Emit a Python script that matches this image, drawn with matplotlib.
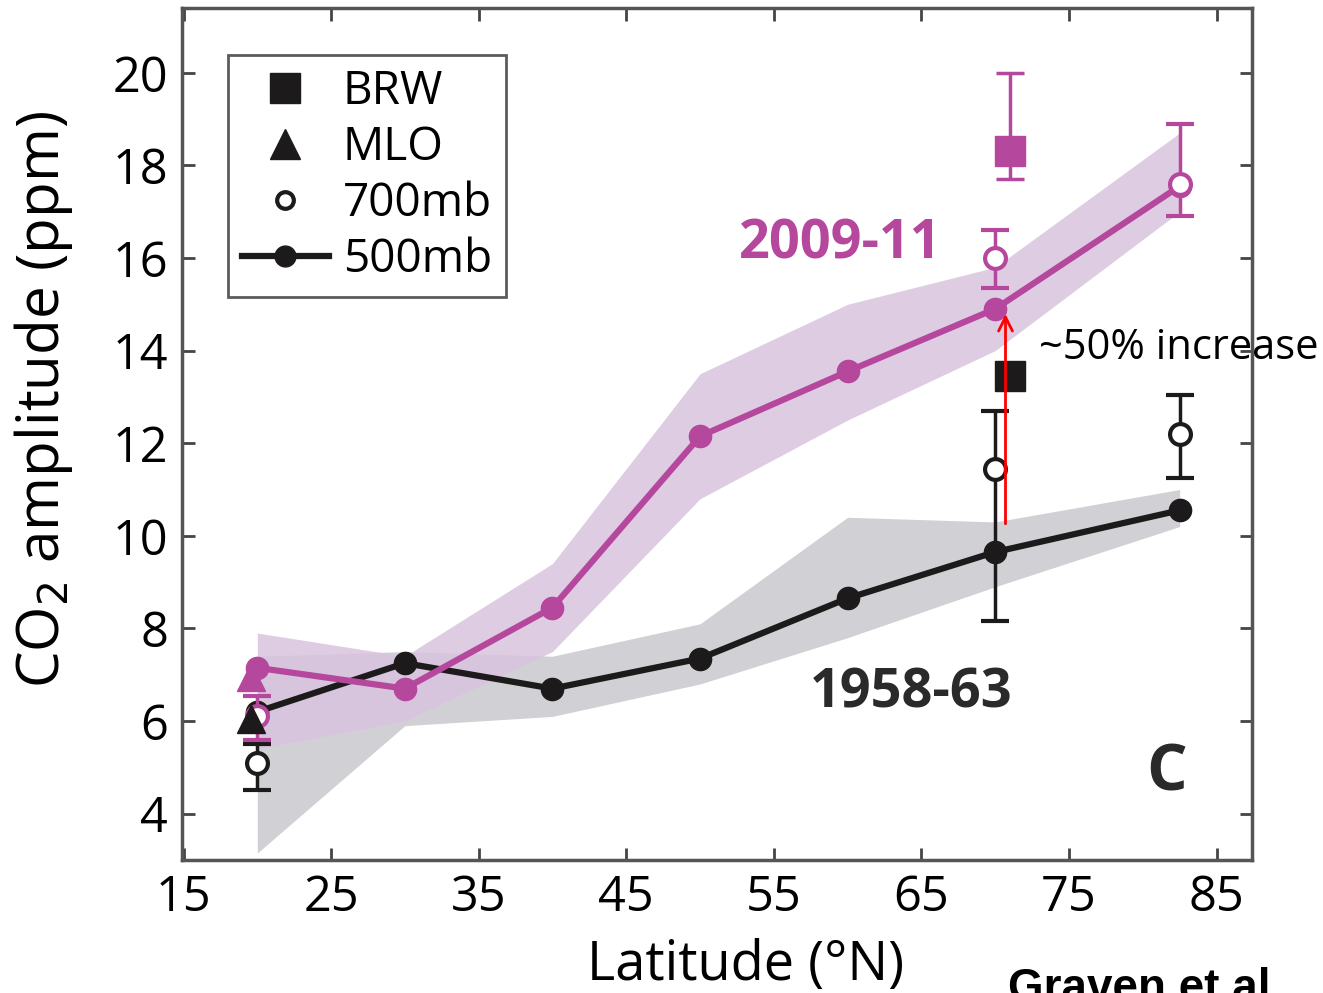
import matplotlib
matplotlib.use('Agg')
from matplotlib import pyplot as plt
from matplotlib.lines import Line2D
import numpy as np

plt.rcParams['font.family'] = ['Open Sans', 'DejaVu Sans']

# latitudes of the aircraft profiles
lat = [20, 30, 40, 50, 60, 70, 82.5]

# 500mb amplitude, 2009-11 (magenta) and 1958-63 (black)
amp_new = [7.15, 6.7, 8.45, 12.15, 13.55, 14.9, 17.55]
amp_old = [6.2, 7.25, 6.7, 7.35, 8.65, 9.65, 10.55]

# shaded uncertainty bands
band_new_lo = [5.4, 6.0, 7.5, 10.8, 12.5, 14.0, 17.0]
band_new_hi = [7.9, 7.4, 9.4, 13.5, 15.0, 15.8, 18.7]
band_old_lo = [3.15, 5.9, 6.1, 6.8, 7.8, 8.9, 10.2]
band_old_hi = [7.4, 7.5, 7.4, 8.1, 10.4, 10.3, 11.0]

# 700mb points with asymmetric error bars
lat700 = [20, 70, 82.5]
amp700_new = [6.1, 16.0, 17.6]
err700_new_lo = [0.5, 0.65, 0.7]
err700_new_hi = [0.45, 0.6, 1.3]
amp700_old = [5.1, 11.45, 12.2]
err700_old_lo = [0.6, 3.3, 0.95]
err700_old_hi = [0.4, 1.25, 0.85]

# station data
brw_lat = 71.0
brw_new, brw_new_lo, brw_new_hi = 18.3, 0.6, 1.7
brw_old = 13.45
mlo_lat = 19.6
mlo_new = 6.95
mlo_old = 6.05

magenta = '#B5479D'
purple_band = '#D9C4DF'
gray_band = '#D1D1D5'
dark = '#1C1A1A'

fig = plt.figure(figsize=(13.23, 9.93), dpi=100)
ax = fig.add_axes([0.1376, 0.134, 0.8087, 0.858])

ax.fill_between(lat, band_old_lo, band_old_hi, color=gray_band, lw=0, zorder=1)
ax.fill_between(lat, band_new_lo, band_new_hi, color=purple_band, lw=0, alpha=0.85, zorder=2)

ax.plot(lat, amp_old, '-o', color=dark, lw=4.5, ms=16, zorder=4)
ax.plot(lat, amp_new, '-o', color=magenta, lw=4.5, ms=16, zorder=4)

ax.errorbar(lat700, amp700_old, yerr=[err700_old_lo, err700_old_hi], fmt='o', color=dark,
            mfc='white', mec=dark, mew=3, ms=15, elinewidth=2.5, capsize=10, capthick=2.5, zorder=5)
ax.errorbar(lat700, amp700_new, yerr=[err700_new_lo, err700_new_hi], fmt='o', color=magenta,
            mfc='white', mec=magenta, mew=3, ms=15, elinewidth=2.5, capsize=10, capthick=2.5, zorder=5)

ax.errorbar([brw_lat], [brw_new], yerr=[[brw_new_lo], [brw_new_hi]], fmt='s', color=magenta,
            ms=21, elinewidth=2.5, capsize=10, capthick=2.5, zorder=5)
ax.plot([brw_lat], [brw_old], 's', color=dark, ms=21, zorder=5)
ax.plot([mlo_lat], [mlo_new], '^', color=magenta, ms=20, zorder=5)
ax.plot([mlo_lat], [mlo_old], '^', color=dark, ms=20, zorder=6)

ax.set_xlim(14.9, 87.4)
ax.set_ylim(3.0, 21.4)
ax.set_xticks([15, 25, 35, 45, 55, 65, 75, 85])
ax.set_yticks([4, 6, 8, 10, 12, 14, 16, 18, 20])
ax.tick_params(direction='in', length=9, width=2, labelsize=35, top=True, right=True,
               color='#444444', pad=10)
for s in ax.spines.values():
    s.set_linewidth(2.5)
    s.set_color('#555555')

ax.set_xlabel('Latitude (°N)', fontsize=39)
ax.xaxis.set_label_coords(0.527, -0.092)
ax.set_ylabel('CO$_2$ amplitude (ppm)', fontsize=42)
ax.yaxis.set_label_coords(-0.1, 0.54)

ax.text(59.5, 16.3, '2009-11', color=magenta, fontsize=39, fontweight='bold', ha='center', va='center')
ax.text(64.3, 6.6, '1958-63', color='#2a2a2a', fontsize=39, fontweight='bold', ha='center', va='center')
ax.text(81.6, 4.85, 'C', color='#2a2a2a', fontsize=46, fontweight='bold', ha='center', va='center')

ax.annotate('', xy=(70.7, 14.85), xytext=(70.7, 10.2),
            arrowprops=dict(arrowstyle='->', color='red', lw=2, mutation_scale=25), zorder=7)
fig.text(0.785, 0.65, '~50% increase', fontsize=30, ha='left', va='center', color='black')
fig.text(0.762, -0.018, 'Graven et al.', fontsize=33, fontweight='bold', ha='left', va='bottom',
         family='Liberation Sans')

handles = [
    Line2D([0], [0], marker='s', color='none', mfc=dark, mec=dark, ms=21),
    Line2D([0], [0], marker='^', color='none', mfc=dark, mec=dark, ms=21),
    Line2D([0], [0], marker='o', color='none', mfc='white', mec=dark, mew=3, ms=12),
    Line2D([0], [0], marker='o', color=dark, lw=4.5, ms=15),
]
leg = ax.legend(handles, ['BRW', 'MLO', '700mb', '500mb'], loc='upper left',
                bbox_to_anchor=(0.043, 0.945), fontsize=33, frameon=True, fancybox=False,
                handlelength=1.9, handletextpad=0.3, labelspacing=0.22, borderpad=0.3,
                borderaxespad=0)
leg.get_frame().set_edgecolor('#333333')
leg.get_frame().set_linewidth(2)

fig.savefig('out.png', dpi=100)
